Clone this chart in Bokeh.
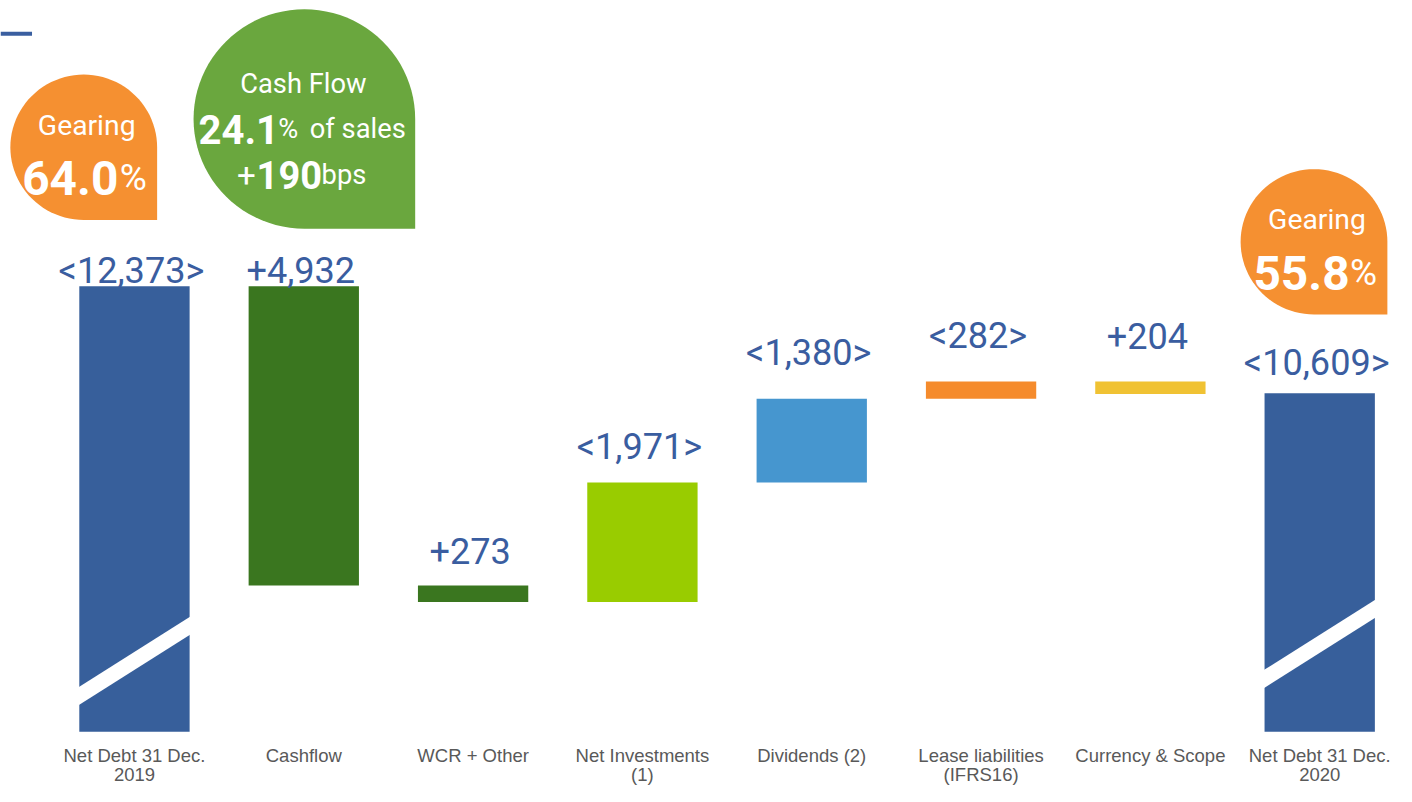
import math
from bokeh.plotting import figure
from bokeh.models import Range1d, ColumnDataSource
from bokeh.core.properties import value
from bokeh.embed import file_html
from bokeh.resources import INLINE

# ---------------- data ----------------
categories = ["Net Debt 31 Dec.\n2019", "Cashflow", "WCR + Other", "Net Investments\n(1)",
              "Dividends (2)", "Lease liabilities\n(IFRS16)", "Currency & Scope", "Net Debt 31 Dec.\n2020"]
opening_debt = 12373
closing_debt = 10609
# change in net debt (negative = debt reduction)
changes = [-4932, -273, 1971, 1380, 282, -204]
gearing_2019 = "64.0"
gearing_2020 = "55.8"
cash_flow_pct = "24.1"
cash_flow_bps = "190"

# ---------------- style / layout ----------------
bar_colors = ["#375F9B", "#3A761F", "#3A761F", "#99CC00", "#4696CF", "#F58B2C", "#F0C233", "#375F9B"]
label_gap_px = [16, 17, 35, 36, 47, 47, 47, 31]
LABEL_BLUE = "#3A5DA0"
CAT_GRAY = "#595959"
ORANGE = "#F59031"
GREEN = "#6AA73E"

FIG_W, FIG_H = 1396, 786
SX, SY = 0.985, 0.975           # slight shrink so the whole composition fits the window
PX_PER_UNIT = 0.06225           # design pixels per unit of debt
STEP_PX = 171.9                 # design pixels per category
X0_PX = 136                     # design x of first category centre
TOP_PX = 293                    # design y of the opening bar top
BASE_PX = 750                   # design y of the (broken) axis base


def xd(px):
    return (px - X0_PX) / STEP_PX


def yd(py):
    return opening_debt - (py - TOP_PX) / PX_PER_UNIT


def fs(sz):
    return f"{sz * SY:.1f}px"


axis_base = yd(BASE_PX)

# ---------------- waterfall geometry ----------------
xs = list(range(len(categories)))
bottoms, tops, labels = [axis_base], [opening_debt], [f"<{opening_debt:,}>"]
cur = opening_debt
for c in changes:
    new = cur + c
    bottoms.append(min(cur, new))
    tops.append(max(cur, new))
    labels.append(f"+{-c:,}" if c < 0 else f"<{c:,}>")
    cur = new
bottoms.append(axis_base)
tops.append(closing_debt)
labels.append(f"<{closing_debt:,}>")

src = ColumnDataSource(dict(x=xs, bottom=bottoms, top=tops, color=bar_colors, label=labels,
                            yoff=[-g * SY for g in label_gap_px]))

p = figure(width=FIG_W, height=FIG_H, x_range=Range1d(xd(0), xd(FIG_W / SX)),
           y_range=Range1d(yd(FIG_H / SY), yd(0)), output_backend="svg",
           toolbar_location=None, min_border=0, x_axis_type=None, y_axis_type=None)
p.grid.visible = False
p.outline_line_color = None
p.background_fill_color = "white"
p.border_fill_color = "white"

BAR_W = 112 / STEP_PX
p.vbar(x="x", width=BAR_W, bottom="bottom", top="top", fill_color="color", line_color=None, source=src)

# axis-break bands on the two total bars
brk_xs, brk_ys = [], []
for idx, lift in ((0, 37.0), (len(categories) - 1, 54.5)):
    cpx = X0_PX + idx * STEP_PX
    lpx, rpx = cpx - 58, cpx + 58
    slope = -71.5 / 112
    yc_l = BASE_PX - lift + (lpx - (cpx - 56)) * slope
    yc_r = BASE_PX - lift + (rpx - (cpx - 56)) * slope
    half = 9.25
    brk_xs.append([xd(lpx), xd(rpx), xd(rpx), xd(lpx)])
    brk_ys.append([yd(yc_l - half), yd(yc_r - half), yd(yc_r + half), yd(yc_l + half)])
p.patches(brk_xs, brk_ys, fill_color="white", line_color=None)

# value labels
p.text(x="x", y="top", text="label", source=src, text_font=value("Roboto"), text_font_size=fs(37),
       text_color=LABEL_BLUE, text_align="center", text_baseline="alphabetic",
       x_offset=-3, y_offset="yoff")

# category labels (two lines)
line1 = [c.split("\n")[0] for c in categories]
line2 = [c.split("\n")[1] if "\n" in c else "" for c in categories]
cat_src = ColumnDataSource(dict(x=xs, y=[axis_base] * len(xs), l1=line1, l2=line2))
p.text(x="x", y="y", text="l1", source=cat_src, text_font=value("Liberation Sans"),
       text_font_size=fs(19), text_color=CAT_GRAY, text_align="center",
       text_baseline="alphabetic", y_offset=24 * SY)
p.text(x="x", y="y", text="l2", source=cat_src, text_font=value("Liberation Sans"),
       text_font_size=fs(19), text_color=CAT_GRAY, text_align="center",
       text_baseline="alphabetic", y_offset=44 * SY)


# teardrop bubbles
def teardrop(x0, y0, s, n=72):
    r = s / 2.0
    cx, cy = x0 + r, y0 + r
    bx, by = [], []
    for i in range(n + 1):
        a = math.radians(270.0 * i / n)
        bx.append(xd(cx + r * math.cos(a)))
        by.append(yd(cy - r * math.sin(a)))
    bx.append(xd(x0 + s))
    by.append(yd(y0 + s))
    return bx, by


for (bx0, by0, bs, col) in ((10, 76, 149, ORANGE), (196, 9, 225, GREEN), (1259, 173, 149, ORANGE)):
    tx, ty = teardrop(bx0, by0, bs)
    p.patch(tx, ty, fill_color=col, line_color=None)

# bubble texts: (text, design x, design baseline y, size px, bold, align)
pieces = [
    ("Gearing", 87.5, 128, 29, False, "center"),
    (gearing_2019, 22, 182, 49, True, "left"),
    ("%", 121, 182, 38, False, "left"),
    ("Cash Flow", 307.5, 86, 28, False, "center"),
    (cash_flow_pct, 201, 132, 41, True, "left"),
    ("%", 282, 132, 28, False, "left"),
    ("of sales", 314, 132, 28, False, "left"),
    ("+", 240, 179, 34, False, "left"),
    (cash_flow_bps, 260, 179, 39, True, "left"),
    ("bps", 326, 179, 28, False, "left"),
    ("Gearing", 1336.5, 225, 29, False, "center"),
    (gearing_2020, 1272, 279, 49, True, "left"),
    ("%", 1370, 279, 38, False, "left"),
]
for (t, px, py, sz, bold, al) in pieces:
    p.text(x=[xd(px)], y=[yd(py)], text=[t], text_font=value("Roboto"), text_font_size=fs(sz),
           text_font_style="bold" if bold else "normal", text_color="white",
           text_align=al, text_baseline="alphabetic")

# small blue rule at top-left
p.segment(x0=[xd(0)], y0=[yd(34)], x1=[xd(32)], y1=[yd(34)], line_color="#3A5FA0", line_width=4)

open("out.html", "w").write(file_html(p, INLINE))
